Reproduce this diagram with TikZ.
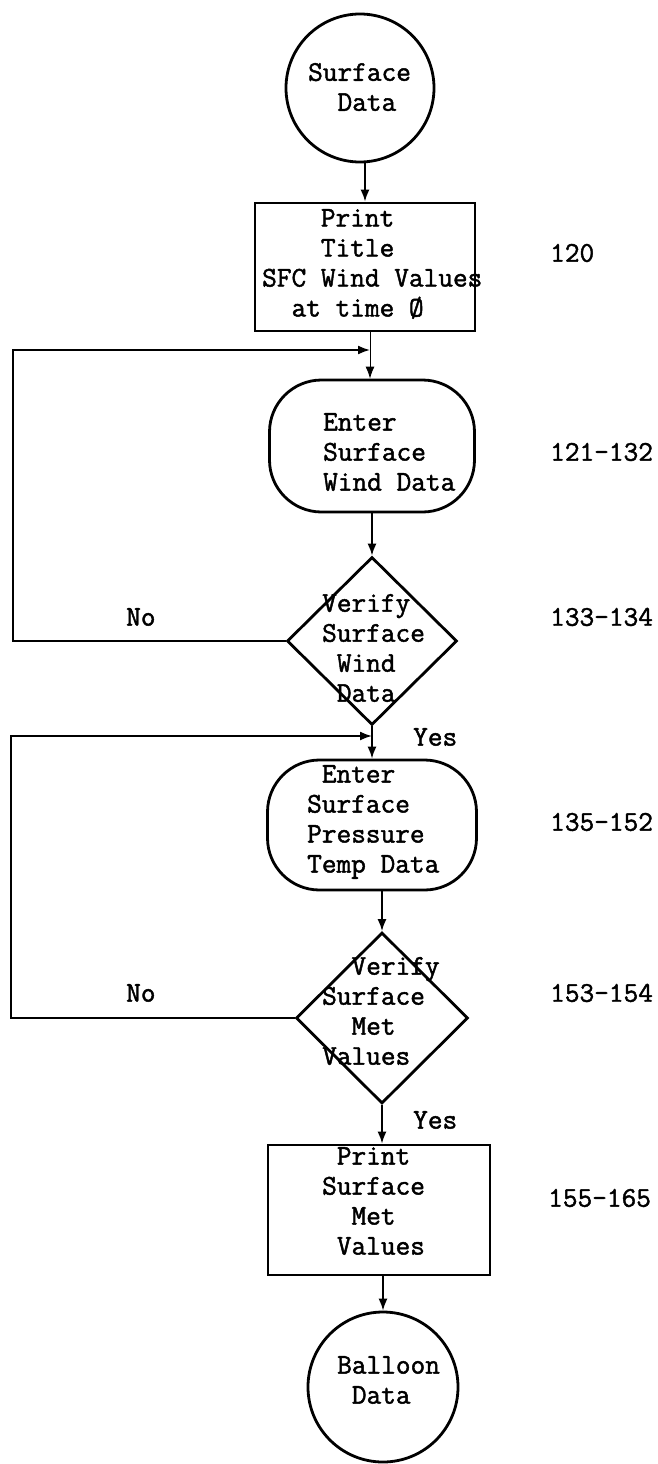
\documentclass[tikz,border=0pt]{standalone}
\usepackage{fontspec}
\newfontfamily\twfont{Latin Modern Mono}[FakeBold=1.6]
\usetikzlibrary{shapes.geometric,arrows.meta}
\newcommand\tsp{\phantom{x}}
\tikzset{
  tt/.style={font=\twfont\fontsize{28.5bp}{30bp}\selectfont, inner sep=0pt, align=left, anchor=west},
  lbl/.style={font=\twfont\fontsize{28.5bp}{30bp}\selectfont, inner sep=0pt, anchor=west},
  shp/.style={draw, line width=2.8bp, inner sep=0pt},
  conn/.style={line width=1.7bp, -{Latex[length=12bp,width=9bp]}},
}
\begin{document}
\begin{tikzpicture}[x=1bp,y=-1bp]
\useasboundingbox (0,0) rectangle (658,1464);
% shapes
\node[shp, circle, minimum size=148bp] (c1) at (360,88) {};
\node[shp, rectangle, minimum width=220bp, minimum height=128bp] (b1) at (365,267) {};
\node[shp, rectangle, rounded corners=52bp, minimum width=205bp, minimum height=132bp] (t1) at (372,446) {};
\node[shp, diamond, minimum width=170bp, minimum height=168bp] (d1) at (372,641) {};
\node[shp, rectangle, rounded corners=52bp, minimum width=209bp, minimum height=130bp] (t2) at (372,825) {};
\node[shp, diamond, minimum width=172bp, minimum height=171bp] (d2) at (382,1018) {};
\node[shp, rectangle, minimum width=222bp, minimum height=130bp] (b3) at (379,1210) {};
\node[shp, circle, minimum size=150bp] (c2) at (383,1387) {};
% texts
\node[tt] (c1t) at (308,87) {Surface\\\tsp\tsp Data};
\node[tt] (b1t) at (262,264) {\tsp\tsp\tsp\tsp Print\\\tsp\tsp\tsp\tsp Title\\SFC Wind Values\\\tsp\tsp at time Ø};
\node[tt] (t1t) at (323,452) {Enter\\Surface\\Wind Data};
\node[tt] (d1t) at (322,648) {Verify\\Surface\\\tsp Wind\\\tsp Data};
\node[tt] (t2t) at (307,822) {\tsp Enter\\Surface\\Pressure\\Temp Data};
\node[tt] (d2t) at (322,1011) {\tsp\tsp Verify\\Surface\\\tsp\tsp Met\\Values};
\node[tt] (b3t) at (322,1201) {\tsp Print\\Surface\\\tsp\tsp Met\\\tsp Values};
\node[tt] (c2t) at (337,1380) {Balloon\\\tsp Data};
% line numbers
\node[lbl] (n1) at (550,253) {120};
\node[lbl] (n2) at (550,452) {121-132};
\node[lbl] (n3) at (550,617) {133-134};
\node[lbl] (n4) at (550,822) {135-152};
\node[lbl] (n5) at (550,993) {153-154};
\node[lbl] (n6) at (548,1198) {155-165};
% branch labels
\node[lbl] (no1) at (126,617) {No};
\node[lbl] (no2) at (126,993) {No};
\node[lbl] (yes1) at (413,737) {Yes};
\node[lbl] (yes2) at (413,1120) {Yes};
% junctions
\coordinate (j1) at (370,350);
\coordinate (j2) at (372,736);
\coordinate (L1) at (13,0);
\coordinate (L2) at (11,0);
% connectors
\draw[conn] (b1.north |- c1.south) -- (b1.north);
\draw[conn, line width=0.9bp] (b1.south -| j1) -- (t1.north -| j1);
\draw[conn] (d1.west) -| (L1 |- j1) -- (j1);
\draw[conn] (t1.south) -- (d1.north);
\draw[conn] (d1.south) -- (t2.north);
\draw[conn] (d2.west) -| (L2 |- j2) -- (j2);
\draw[conn] (t2.south -| d2.north) -- (d2.north);
\draw[conn] (d2.south) -- (b3.north -| d2.south);
\draw[conn] (b3.south -| c2.north) -- (c2.north);
\end{tikzpicture}
\end{document}
